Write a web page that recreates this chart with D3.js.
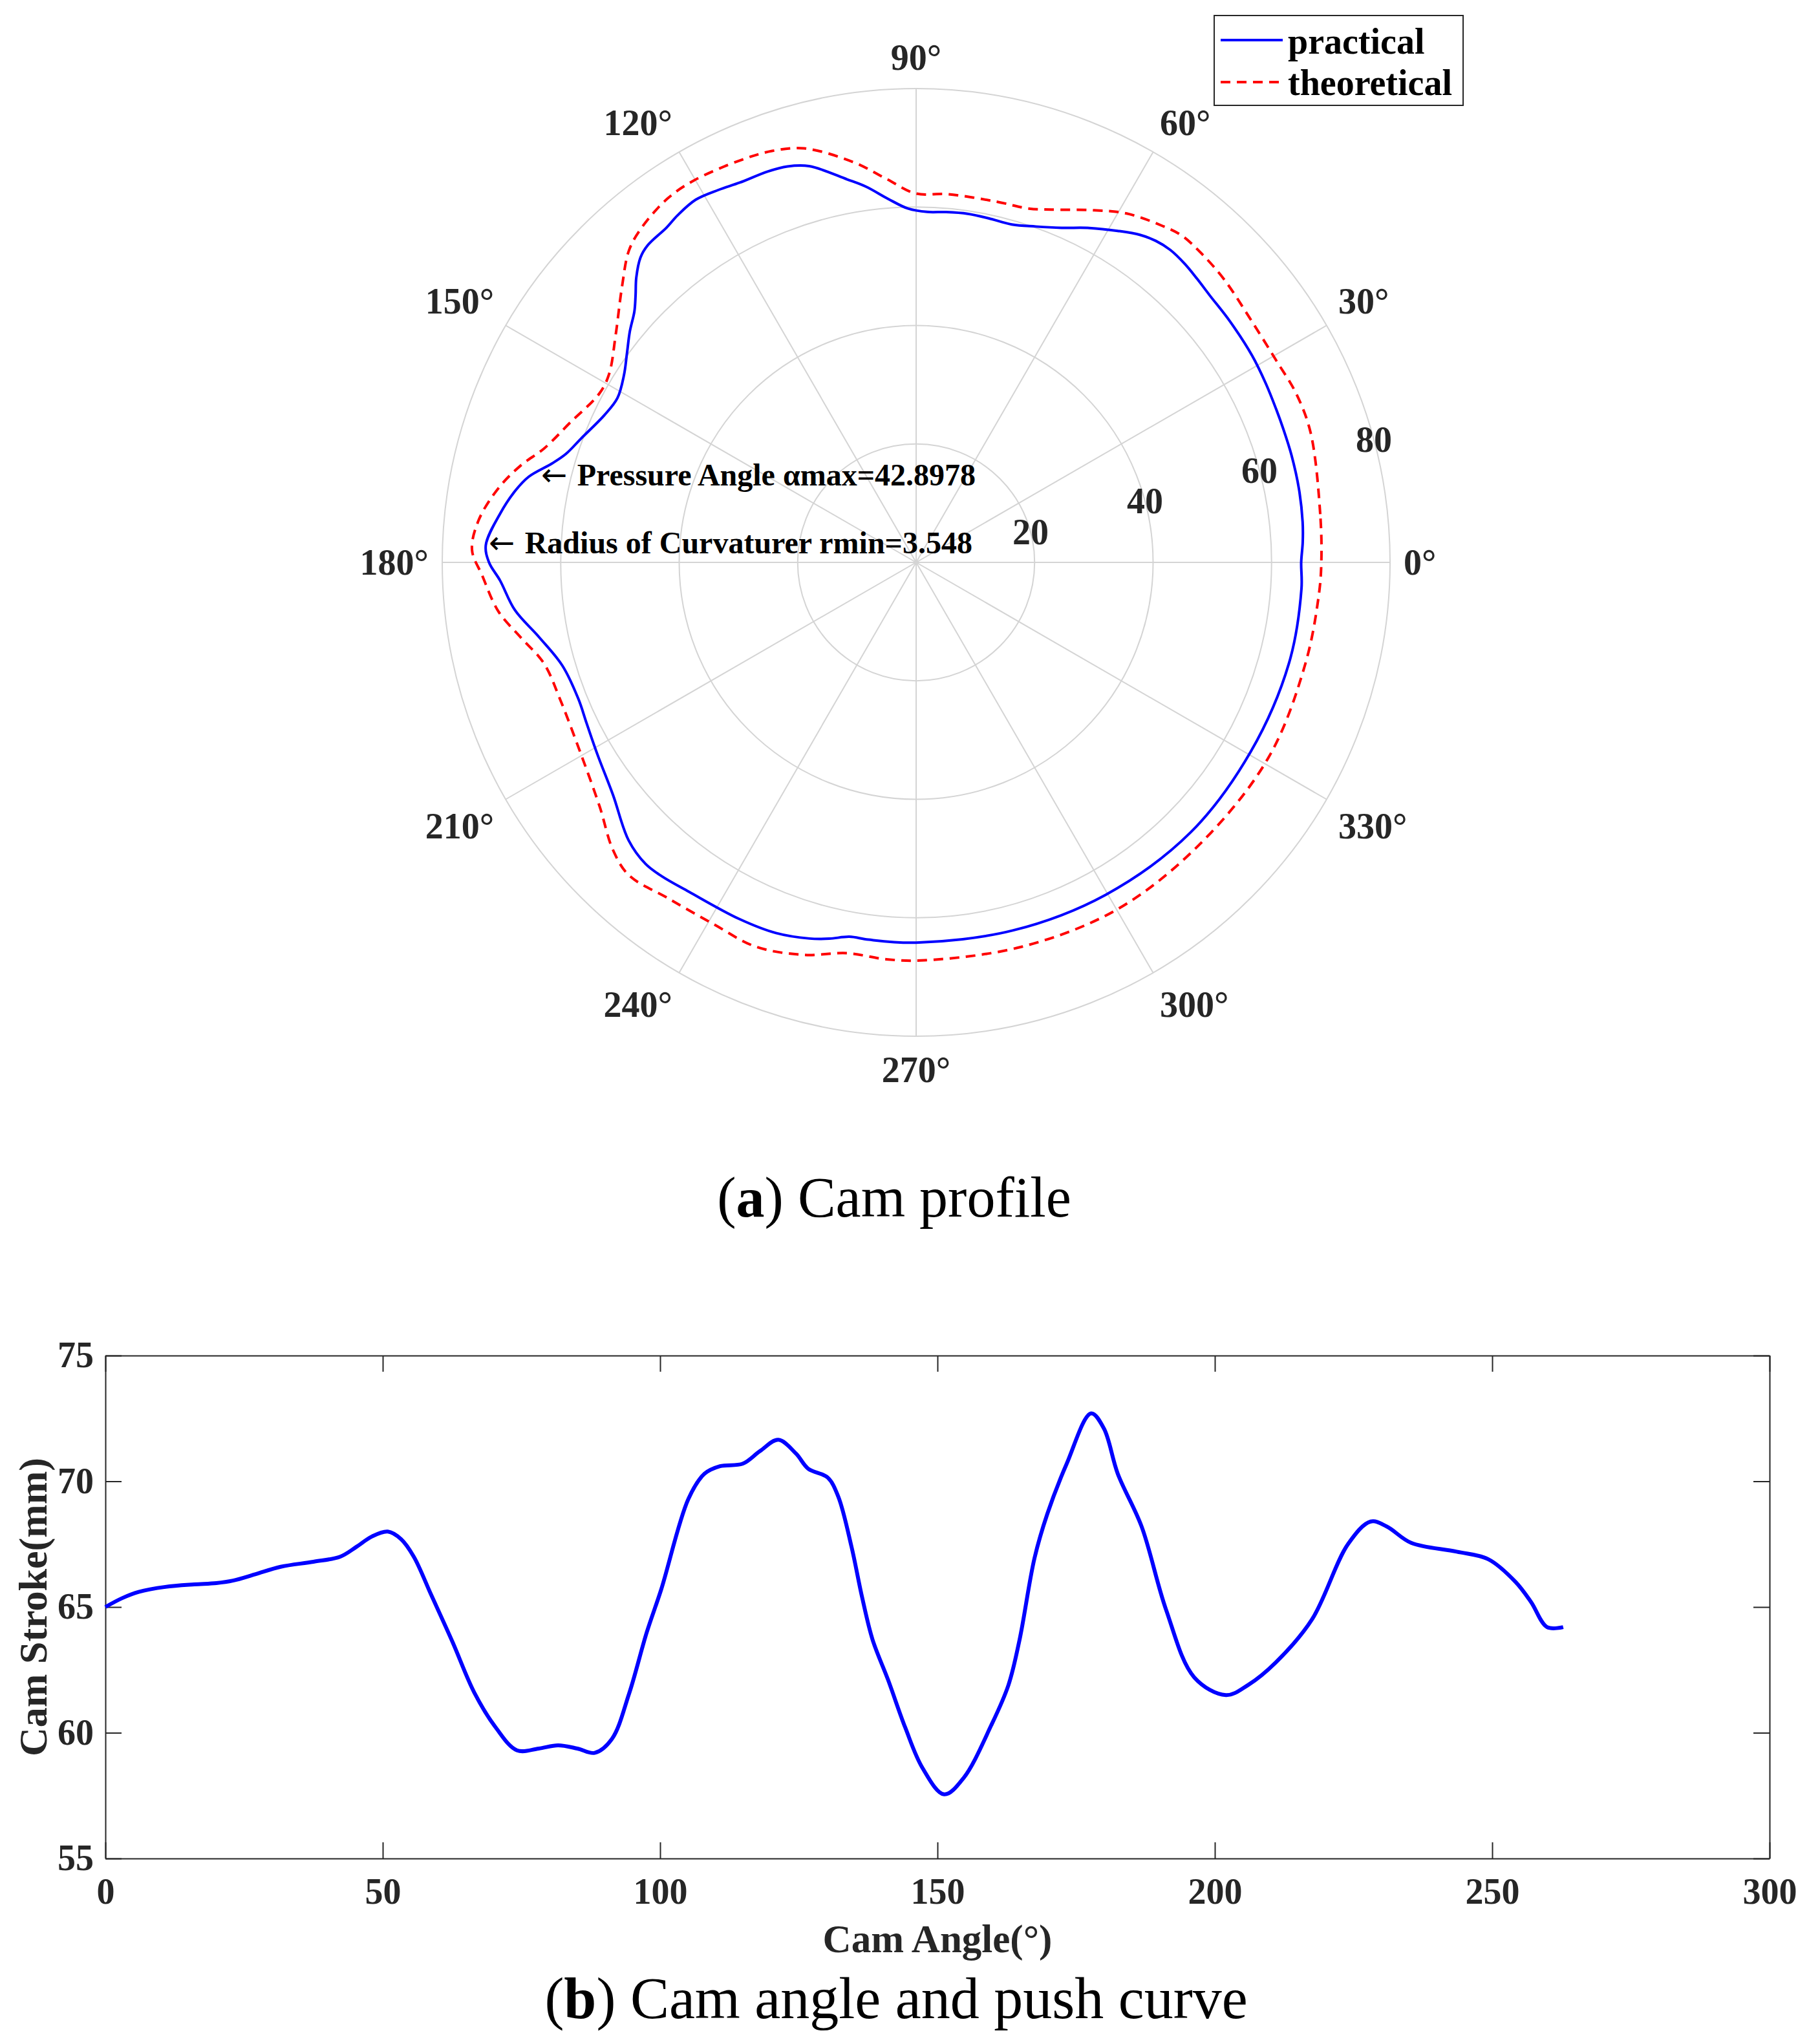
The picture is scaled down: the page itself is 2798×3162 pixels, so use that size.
<!DOCTYPE html>
<html lang="en">
<head>
<meta charset="UTF-8">
<title>Cam profile</title>
<style>
  body { margin: 0; background: #fff; }
  svg text { font-family: "Liberation Serif", "Times New Roman", serif; }
</style>
</head>
<body>
<svg id="chart" width="2798" height="3162"></svg>
<script src="https://cdn.jsdelivr.net/npm/d3@7"></script>
<script>
// cam stroke vs cam angle (bottom plot, also the practical profile from 0 to ~263 deg)
const camAngle = [0, 3, 6, 10.8, 16, 20, 23, 27, 31.6, 37.5, 42.3, 45.3, 48, 50.9, 53.3, 55.6, 58.7, 62.6, 66.5,
  70.4, 74.2, 78.1, 81.6, 85.1, 88.2, 91.3, 94.4, 97.6, 100.2, 105.1, 108, 110.8, 114.9, 118, 121.3, 124.5,
  126.7, 130.2, 132.1, 134.5, 136.4, 138.3, 141.1, 144.2, 147.3, 151.2, 154.7, 159.7, 162.8, 164.8, 167.5,
  169.8, 173.3, 177.7, 180, 182.5, 186.8, 191.2, 196.3, 202, 206, 211, 217.5, 224, 228.1, 231, 235.4, 243.6,
  249.3, 254.2, 257, 259.9, 262.8];
const camStroke = [65.0, 65.35, 65.6, 65.8, 65.9, 65.95, 66.05, 66.3, 66.6, 66.8, 67.0, 67.4, 67.8, 68.0, 67.7, 67.0, 65.5, 63.6, 61.6,
  60.2, 59.3, 59.37, 59.5, 59.37, 59.2, 59.75, 61.55, 64.0, 65.7, 69.3, 70.3, 70.6, 70.7, 71.2, 71.65, 71.1,
  70.5, 70.15, 69.4, 67.4, 65.4, 63.7, 62.1, 60.2, 58.6, 57.55, 58.2, 60.3, 61.9, 63.7, 66.95,
  68.7, 70.7, 72.7, 72.1, 70.3, 68.2, 64.9, 62.2, 61.5, 61.9, 62.8, 64.5, 67.5, 68.4, 68.2, 67.55, 67.2,
  66.9, 66.0, 65.2, 64.2, 64.2];

// practical profile after the stroke curve ends
const tailAngle = [270, 284.7, 299.7, 315.5, 330.5, 344.9, 356.1];
const tailRadius = [64.2, 64.25, 64.6, 65.0, 64.9, 65.2, 65.2];

// theoretical profile (red dashed)
const theoAngle = [0, 6.8, 18.2, 24, 29.2, 36.1, 42.5, 47.3, 50.9, 53.8, 58.9, 63.2, 69, 72.3, 77.5, 85.1,
  90.1, 94.5, 98.9, 105.1, 109.3, 113.7, 120.2, 124.3, 129.3, 132.6, 136.8, 142.9, 148.5, 151.9, 158, 163,
  166.2, 169.9, 174.5, 178.4, 181.7, 186.7, 190.8, 195.2, 201, 209.3, 217.7, 223.4, 227.4, 233.5, 240.7,
  247.4, 254.1, 260, 265.7, 271.2, 285.4, 300, 314.9, 331, 345.5, 355.4];
const theoRadius = [68.4, 68.7, 70.1, 70.2, 69.7, 69.8, 70.6, 71.0, 71.1, 70.4, 68.8, 66.6, 63.8, 62.7, 62.4, 62.4,
  62.3, 65.0, 68.4, 72.4, 73.6, 74.1, 74.6, 74.4, 73.1, 71.6, 68.1, 63.6, 60.8, 60.6, 63.0, 65.7,
  68.7, 71.6, 74.2, 75.0, 73.3, 71.0, 67.9, 65.1, 64.4, 65.1, 67.5, 70.5, 71.7, 70.5, 70.0,
  70.3, 68.9, 67.0, 67.2, 67.2, 67.3, 67.7, 67.5, 68.0, 67.9, 68.2];

const thetaTicks = d3.range(0, 360, 30);
const rTicks = [20, 40, 60, 80];
const xTicks = [0, 50, 100, 150, 200, 250, 300];
const yTicks = [55, 60, 65, 70, 75];

const notes = [
  { a: 166.8, r: 65.0, text: "Pressure Angle \u03b1max=42.8978" },
  { a: 177.3, r: 72.2, text: "Radius of Curvaturer rmin=3.548" }
];

const svg = d3.select("#chart");
svg.append("rect").attr("width", 2798).attr("height", 3162).attr("fill", "#fff");

// ---------- polar plot ----------
const cx = 1417, cy = 870;
const r = d3.scaleLinear().domain([0, 80]).range([0, 733]);
const rad = a => a * Math.PI / 180;
const polar = svg.append("g").attr("transform", `translate(${cx},${cy})`);

polar.selectAll("circle.grid").data(rTicks).enter().append("circle")
  .attr("r", d => r(d)).attr("fill", "none").attr("stroke", "#d4d4d4").attr("stroke-width", 2);

polar.selectAll("line.spoke").data(thetaTicks).enter().append("line")
  .attr("x1", 0).attr("y1", 0)
  .attr("x2", d => r(80) * Math.cos(rad(d)))
  .attr("y2", d => -r(80) * Math.sin(rad(d)))
  .attr("stroke", "#d4d4d4").attr("stroke-width", 2);

// theta labels, edge nearest the centre sits on a fixed radius
const labR = 754;
polar.selectAll("text.theta").data(thetaTicks).enter().append("text")
  .attr("x", d => labR * Math.cos(rad(d)))
  .attr("y", d => {
    const s = Math.sin(rad(d)), y = -labR * s;
    if (s > 0.1) return y - 8;
    if (s < -0.1) return y + 50;
    return y + 19;
  })
  .attr("text-anchor", d => {
    const c = Math.cos(rad(d));
    return c > 0.1 ? "start" : (c < -0.1 ? "end" : "middle");
  })
  .attr("font-size", 56).attr("font-weight", "bold").attr("fill", "#262626")
  .text(d => d + "\u00b0");

polar.selectAll("text.rlab").data(rTicks).enter().append("text")
  .attr("x", d => r(d) * Math.cos(rad(15)))
  .attr("y", d => -r(d) * Math.sin(rad(15)) + 19)
  .attr("text-anchor", "middle")
  .attr("font-size", 56).attr("font-weight", "bold").attr("fill", "#262626")
  .text(d => d);

const radial = d3.lineRadial()
  .angle(d => Math.PI / 2 - rad(d[0]))
  .radius(d => r(d[1]))
  .curve(d3.curveCatmullRomClosed);

const practical = camAngle.map((a, i) => [a, camStroke[i]])
  .concat(tailAngle.map((a, i) => [a, tailRadius[i]]));
const theoretical = theoAngle.map((a, i) => [a, theoRadius[i]]);

polar.append("path").attr("d", radial(theoretical))
  .attr("fill", "none").attr("stroke", "#ff0000").attr("stroke-width", 4)
  .attr("stroke-dasharray", "15,10");
polar.append("path").attr("d", radial(practical))
  .attr("fill", "none").attr("stroke", "#0000ff").attr("stroke-width", 4);

const note = polar.selectAll("text.note").data(notes).enter().append("text")
  .attr("x", d => r(d.r) * Math.cos(rad(d.a)))
  .attr("y", d => -r(d.r) * Math.sin(rad(d.a)))
  .attr("dy", "0.35em")
  .attr("font-size", 48).attr("font-weight", "bold").attr("fill", "#000");
note.append("tspan").attr("font-family", "DejaVu Sans").attr("font-weight", "normal").text("\u2190 ");
note.append("tspan").text(d => d.text);

// legend
const leg = svg.append("g");
leg.append("rect").attr("x", 1878).attr("y", 24).attr("width", 385).attr("height", 139)
  .attr("fill", "#fff").attr("stroke", "#262626").attr("stroke-width", 2);
leg.append("line").attr("x1", 1888).attr("x2", 1984).attr("y1", 62).attr("y2", 62)
  .attr("stroke", "#0000ff").attr("stroke-width", 4);
leg.append("line").attr("x1", 1888).attr("x2", 1984).attr("y1", 127).attr("y2", 127)
  .attr("stroke", "#ff0000").attr("stroke-width", 4).attr("stroke-dasharray", "15,10");
leg.append("text").attr("x", 1992).attr("y", 83).attr("font-size", 56).attr("font-weight", "bold").text("practical");
leg.append("text").attr("x", 1992).attr("y", 147).attr("font-size", 56).attr("font-weight", "bold").text("theoretical");

// caption (a)
const capA = svg.append("text").attr("x", 1383).attr("y", 1882).attr("text-anchor", "middle")
  .attr("font-size", 88).attr("fill", "#000");
capA.append("tspan").text("(");
capA.append("tspan").attr("font-weight", "bold").text("a");
capA.append("tspan").text(") Cam profile");

// ---------- stroke plot ----------
const x = d3.scaleLinear().domain([0, 300]).range([163, 2737]);
const y = d3.scaleLinear().domain([55, 75]).range([2875, 2097]);
const plot = svg.append("g");

function styleAxis(g) {
  g.selectAll("path.domain").attr("stroke", "#262626").attr("stroke-width", 2);
  g.selectAll(".tick line").attr("stroke", "#262626").attr("stroke-width", 2);
  g.selectAll(".tick text").attr("font-family", "Liberation Serif").attr("font-size", 56)
    .attr("font-weight", "bold").attr("fill", "#262626");
}

plot.append("g").attr("transform", `translate(0,${y(55)})`)
  .call(d3.axisBottom(x).tickValues(xTicks).tickSizeInner(-25).tickSizeOuter(0).tickPadding(30))
  .call(styleAxis);
plot.append("g").attr("transform", `translate(0,${y(75)})`)
  .call(d3.axisTop(x).tickValues(xTicks).tickSizeInner(-25).tickSizeOuter(0).tickFormat(""))
  .call(styleAxis);
plot.append("g").attr("transform", `translate(${x(0)},0)`)
  .call(d3.axisLeft(y).tickValues(yTicks).tickSizeInner(-25).tickSizeOuter(0).tickPadding(18))
  .call(styleAxis);
plot.append("g").attr("transform", `translate(${x(300)},0)`)
  .call(d3.axisRight(y).tickValues(yTicks).tickSizeInner(-25).tickSizeOuter(0).tickFormat(""))
  .call(styleAxis);

const line = d3.line().x(d => x(d[0])).y(d => y(d[1])).curve(d3.curveCatmullRom);
plot.append("path").attr("d", line(camAngle.map((a, i) => [a, camStroke[i]])))
  .attr("fill", "none").attr("stroke", "#0000ff").attr("stroke-width", 6);

plot.append("text").attr("x", 1450).attr("y", 3020).attr("text-anchor", "middle")
  .attr("font-size", 61).attr("font-weight", "bold").attr("fill", "#262626").text("Cam Angle(\u00b0)");
plot.append("text").attr("transform", "translate(72,2486) rotate(-90)").attr("text-anchor", "middle")
  .attr("font-size", 62).attr("font-weight", "bold").attr("fill", "#262626").text("Cam Stroke(mm)");

// caption (b)
const capB = svg.append("text").attr("x", 1386).attr("y", 3122).attr("text-anchor", "middle")
  .attr("font-size", 90).attr("fill", "#000");
capB.append("tspan").text("(");
capB.append("tspan").attr("font-weight", "bold").text("b");
capB.append("tspan").text(") Cam angle and push curve");
</script>
</body>
</html>
